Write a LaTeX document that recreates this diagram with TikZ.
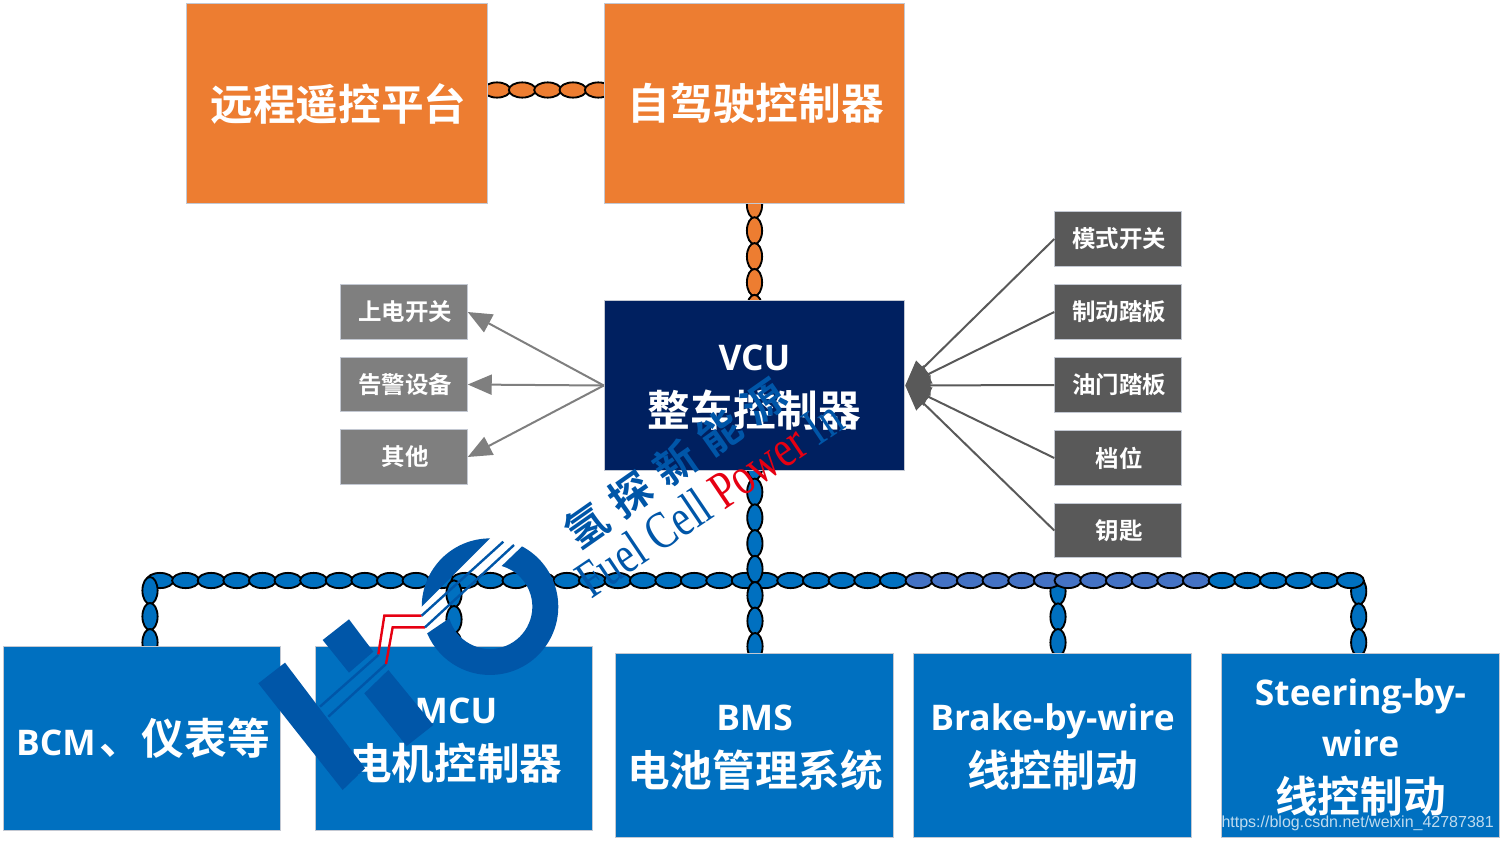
\documentclass[tikz,border=0pt]{standalone}
\usepackage{fontspec}
\usepackage{graphicx}
\setmainfont{Noto Sans CJK SC}[BoldFont={Noto Sans CJK SC Bold}]
\newfontfamily\cjkb{Noto Sans CJK SC Bold}
\newfontfamily\latb{Open Sans}[BoldFont={Open Sans Bold}]
\newfontfamily\urlf{Liberation Sans}
\newfontfamily\wmserif{Liberation Serif}
\newcommand{\latn}[1]{\raisebox{-.75pt}{\latb\bfseries\fontsize{26.5pt}{39.75pt}\selectfont #1}}
\newcommand{\topst}{\rule{0pt}{27pt}}
\newcommand{\botst}{\rule[-8pt]{0pt}{8pt}}
\newcommand{\stxt}[1]{\hspace{2pt}\raisebox{-.75pt}{#1}}
\usetikzlibrary{arrows.meta,decorations.markings,calc}
\definecolor{orangeb}{HTML}{ED7D31}
\definecolor{navyb}{HTML}{002060}
\definecolor{blueb}{HTML}{0070C0}
\definecolor{lightb}{HTML}{4472C4}
\definecolor{grayl}{HTML}{7F7F7F}
\definecolor{grayd}{HTML}{595959}
\definecolor{edgeb}{HTML}{C3C8D2}
\definecolor{logoc}{HTML}{0056A8}
\definecolor{logor}{HTML}{E60012}
\pgfdeclarelayer{background}
\pgfsetlayers{background,main}
\tikzset{
  box/.style={draw=edgeb,line width=.6pt,inner sep=0pt,text=white,align=center,font=\cjkb},
  big/.style={box,font=\cjkb\fontsize{32pt}{39.75pt}\selectfont},
  small/.style={box,minimum width=95pt,minimum height=40.8pt,font=\cjkb\fontsize{17.6pt}{20pt}\selectfont},
  topbox/.style={big,minimum width=225.5pt,minimum height=150pt},
  busbox/.style={big,fill=blueb,minimum width=208pt,minimum height=138pt},
  chainlink/.style n args={3}{decorate,decoration={markings,
     mark=between positions #2 and 1 step #3 with {\draw[line width=1.4pt,fill=#1] (0,0) ellipse (10.1pt and 5.7pt);}}},
  inarrow/.style={draw=grayl,line width=1.5pt,-{Triangle[length=18pt,width=15pt]}},
  outarrow/.style={draw=grayd,line width=1.5pt,-{Triangle[length=19pt,width=15pt]}},
}
\begin{document}
\begin{tikzpicture}[x=.75pt,y=.75pt]
\useasboundingbox (0,0) rectangle (1502,-842);
% boxes
\node[topbox,fill=orangeb] (remote) at (337,-103.5) {\hspace{2pt}远程遥控平台};
\node[topbox,fill=orangeb] (auto) at (754.5,-103.5) {\hspace{2pt}自驾驶控制器};
\node[topbox,fill=navyb,minimum height=127pt] (vcu) at (754.5,-385.5) {\topst\latn{VCU}\\[3pt]整车控制器\botst};
\node[small,fill=grayl] (g1) at (404,-312) {\stxt{上电开关}};
\node[small,fill=grayl] (g2) at (404,-384.5) {\stxt{告警设备}};
\node[small,fill=grayl] (g3) at (404,-457) {\stxt{其他}};
\node[small,fill=grayd] (d1) at (1118,-239) {\stxt{模式开关}};
\node[small,fill=grayd] (d2) at (1118,-312) {\stxt{制动踏板}};
\node[small,fill=grayd] (d3) at (1118,-385) {\stxt{油门踏板}};
\node[small,fill=grayd] (d4) at (1118,-458) {\stxt{档位}};
\node[small,fill=grayd] (d5) at (1118,-530.5) {\stxt{钥匙}};
\node[busbox] (bcm) at (142,-738) {\hspace{1.5pt}\latn{BCM}\hspace{2.5pt}、仪表等};
\node[busbox] (mcu) at (454,-738) {\hspace{3pt}\topst\latn{MCU}\\[3pt]\hspace{2.5pt}电机控制器\botst};
\node[busbox] (bms) at (754.5,-745.5) {\topst\latn{BMS}\\[3pt]\hspace{1pt}电池管理系统\botst};
\node[busbox] (brake) at (1052.5,-745.5) {\topst\latn{Brake-by-wire}\\[3pt]线控制动\botst};
\node[busbox] (steer) at (1360.5,-745.5) {\topst\latn{Steering-by-}\\[-1.5pt]\latn{wire}\\[3.25pt]线控制动\botst};
% bus points
\coordinate (jb) at (150,-580.5);
\coordinate (jm) at (454,-580.5);
\coordinate (jv) at (755,-580.5);
\coordinate (c1) at (906,-580.5);
\coordinate (jk) at (1058,-580.5);
\coordinate (c2) at (1209.5,-580.5);
\coordinate (js) at (1358.7,-580.5);
\coordinate (ra) at (487,-90);
\coordinate (rb) at (605,-90);
% chains behind the boxes
\begin{pgfonlayer}{background}
\path[chainlink={orangeb}{7.5pt}{19pt}] (ra) -- (rb);
\path[chainlink={orangeb}{76pt}{19.4pt}] (auto.center) -- (vcu.center);
\path[chainlink={blueb}{8pt}{19.25pt}] (jk) -- (jk |- brake.north);
\path[chainlink={blueb}{8pt}{19.25pt}] (js) -- (js |- steer.north);
\path[chainlink={blueb}{7.5pt}{19.2pt}] (jb) -- (jm);
\path[chainlink={blueb}{8.25pt}{19.1pt}] (jm) -- (jv);
\path[chainlink={blueb}{7.5pt}{19.25pt}] (jv) -- (c1);
\path[chainlink={lightb}{9.75pt}{19.25pt}] (c1) -- (jk);
\path[chainlink={lightb}{7.5pt}{19.25pt}] (jk) -- (c2);
\path[chainlink={blueb}{9.4pt}{19.25pt}] (c2) -- (js);
\path[chainlink={blueb}{60.6pt}{19.3pt}] (vcu.center) -- (jv);
\path[chainlink={blueb}{11.25pt}{19.1pt}] (jv) -- (jv |- bms.north);
\path[chainlink={blueb}{7.5pt}{19.5pt}] (jb) -- (jb |- bcm.north);
\path[chainlink={blueb}{10pt}{19.2pt}] (jm) -- (jm |- mcu.north);
\end{pgfonlayer}
% arrows
\draw[inarrow] (vcu.west) -- (g1.east);
\draw[inarrow] (vcu.west) -- (g2.east);
\draw[inarrow] (vcu.west) -- (g3.east);
\foreach \n in {d1,d2,d3,d4,d5} \draw[outarrow] (\n.west) -- (vcu.east);
% logo watermark
\begin{scope}[shift={(250,-460)},x=.25pt,y=-.25pt]
  \fill[logoc] (105,608) -- (25,670) -- (278,990) -- (345,925) -- cycle;
  \fill[logoc] (297,478) -- (218,540) -- (297,638) -- (370,575) -- cycle;
  \fill[logoc] (415,630) -- (343,700) -- (470,858) -- (550,795) -- cycle;
  \draw[logoc,line width=1.8pt] (385,585) -- (210,740);
  \draw[logoc,line width=1.8pt] (408,612) -- (235,770);
  \draw[logor,line width=1.8pt] (515,467) -- (403,467) -- (385,583);
  \draw[logor,line width=1.8pt] (525,502) -- (428,502) -- (408,612);
  \draw[logoc,line width=1.8pt] (760,245) -- (515,467);
  \draw[logoc,line width=1.8pt] (792,255) -- (525,502);
  \begin{scope}[shift={(720,440)}]
    \fill[logoc] (180:51.2pt) arc[start angle=180,end angle=90,radius=51.2pt] -- cycle;
    \fill[logoc] (62:51.2pt) arc[start angle=62,end angle=-157,radius=51.2pt]
       -- (-164:31.75pt) arc[start angle=-164,end angle=74,radius=31.75pt] -- cycle;
  \end{scope}
\end{scope}
\node[rotate=35,inner sep=0pt,text=logoc,font=\cjkb\fontsize{31.5pt}{34pt}\selectfont] (wm1) at (675,-463)
  {氢\hspace{9pt}探\hspace{9pt}新\hspace{9pt}能\hspace{9pt}源};
\node[rotate=34,anchor=base west,inner sep=0pt,text=logoc,font=\wmserif\fontsize{30.5pt}{32pt}\selectfont] (wm2) at (591,-600)
  {\scalebox{1}[1.3]{Fuel Cell \textcolor{logor}{Power} In}};
\node[anchor=east,inner sep=0pt,text=white!75!blueb,font=\urlf\fontsize{12pt}{14pt}\selectfont] (url) at (1494,-823.5)
  {https://blog.csdn.net/weixin\_42787381};
\end{tikzpicture}
\end{document}
